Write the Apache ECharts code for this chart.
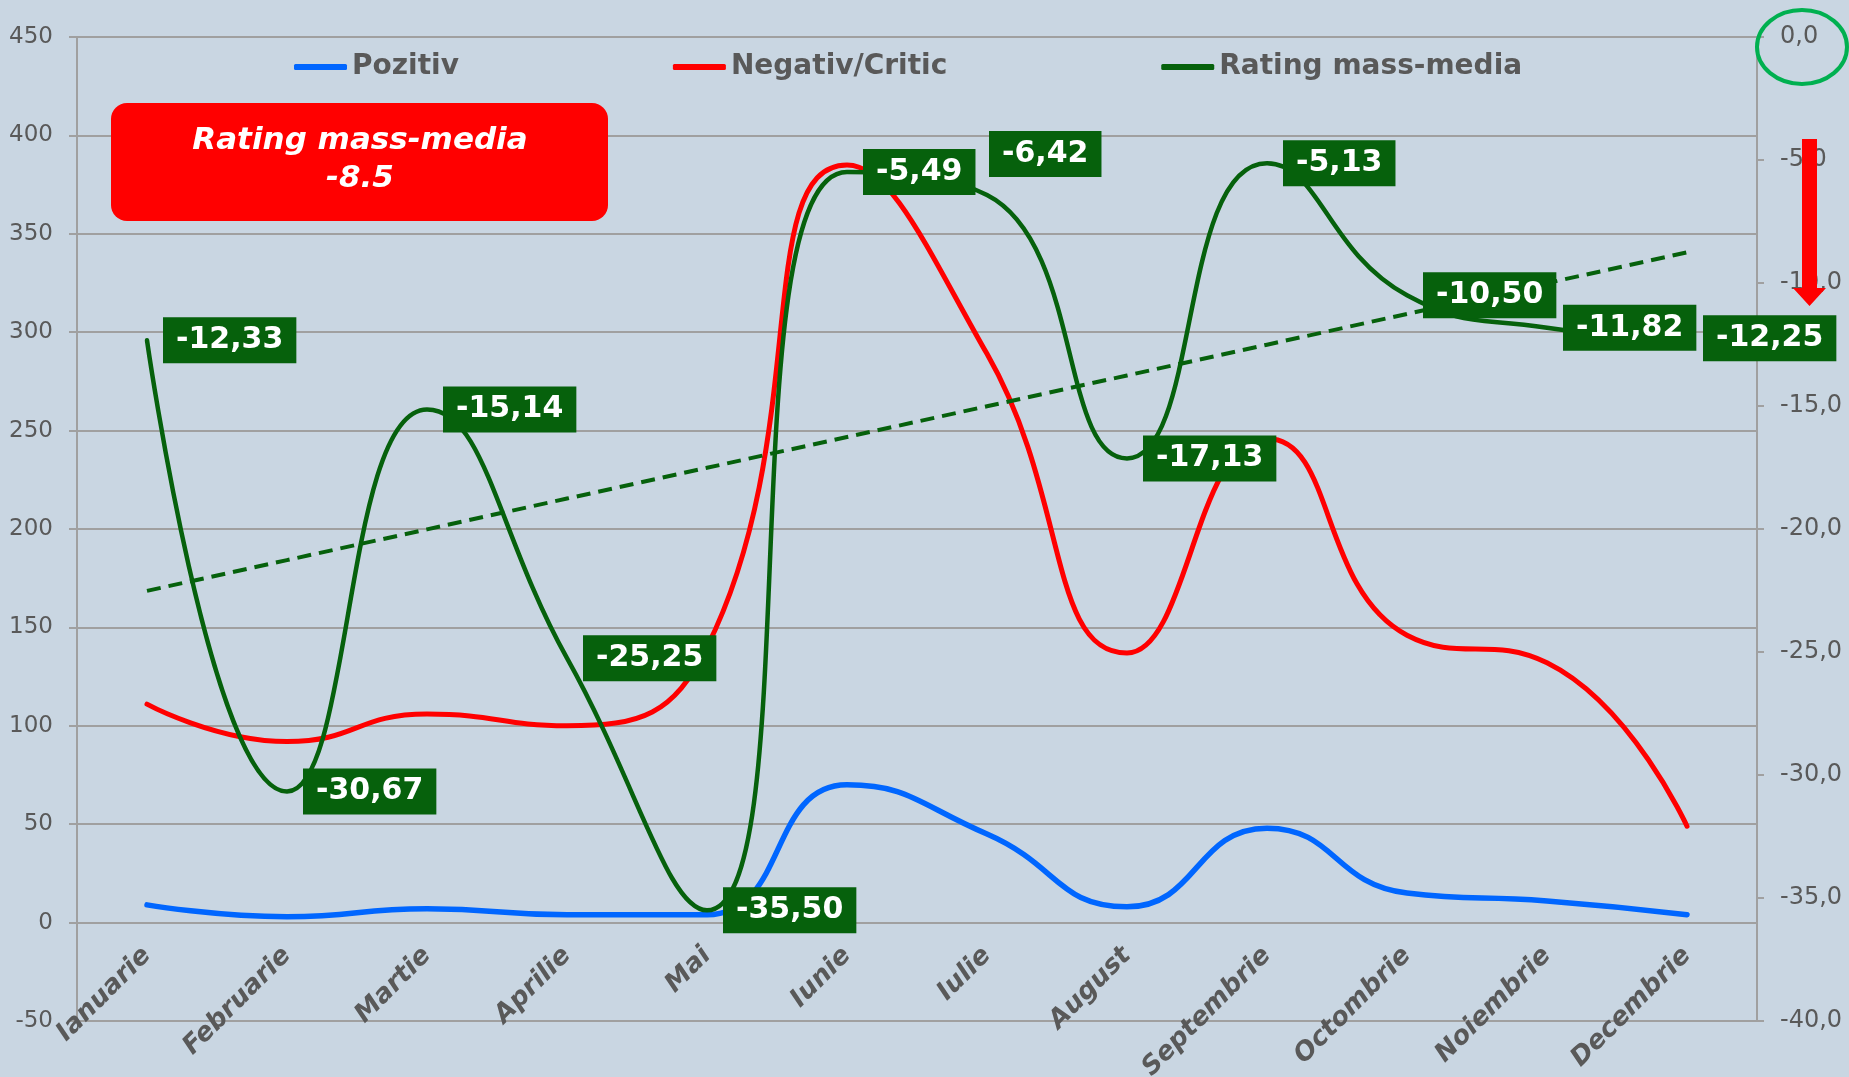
<!DOCTYPE html>
<html>
<head>
<meta charset="utf-8">
<script src="https://cdn.jsdelivr.net/npm/echarts@6/dist/echarts.min.js"></script>
<style>
    html, body {margin: 0; padding: 0; background: #c9d6e2;}
    #main {width: 1849px; height: 1077px;}
</style>
</head>
<body>
<div id="main"></div>
<script>
var months = ['Ianuarie', 'Februarie', 'Martie', 'Aprilie', 'Mai', 'Iunie', 'Iulie', 'August', 'Septembrie', 'Octombrie', 'Noiembrie', 'Decembrie'];
var pozitiv = [9, 3, 7, 4, 4, 70, 45, 8, 48, 15, 11, 4];
var negativ = [111, 92, 106, 100, 140, 385, 289, 137, 246, 146, 132, 49];
var rating = [-12.33, -30.67, -15.14, -25.25, -35.50, -5.49, -6.42, -17.13, -5.13, -10.50, -11.82, -12.25];
var leftMin = -50, leftMax = 450, leftStep = 50;
var rightMin = -40, rightMax = 0, rightStep = 5;
var ratingTotal = '-8.5';

var gray = '#595959';
var lineGray = '#a0a0a0';
var darkGreen = '#06610c';

// linear trend of the rating series
function trend(values) {
    var n = values.length, sx = 0, sy = 0, sxy = 0, sxx = 0;
    for (var i = 0; i < n; i++) {
        sx += i; sy += values[i]; sxy += i * values[i]; sxx += i * i;
    }
    var b = (n * sxy - sx * sy) / (n * sxx - sx * sx);
    var a = (sy - b * sx) / n;
    return values.map(function (v, i) { return +(a + b * i).toFixed(3); });
}

function getChart(id) {

    var chart = echarts.init(document.getElementById(id));

    var gridTop = 37, gridBottom = 56;
    var gridHeight = 1077 - gridTop - gridBottom;
    // category axis sits on the zero line of the left axis
    var zeroOffset = -(0 - leftMin) / (leftMax - leftMin) * gridHeight;

    var ratingData = rating.map(function (v, i) {
        // Iulie label sits above the point
        if (i === 6) return {value: v, label: {offset: [-14, -41]}};
        return v;
    });

    var option = {
        backgroundColor: '#c9d6e2',
        animation: false,
        legend: {
            data: ['Pozitiv', 'Negativ/Critic', 'Rating mass-media'],
            left: 289,
            top: 48,
            icon: 'roundRect',
            itemWidth: 53,
            itemHeight: 6,
            itemGap: 214,
            textStyle: {
                color: gray,
                fontSize: 28,
                fontWeight: 'bold',
                fontFamily: 'DejaVu Sans'
            }
        },
        grid: {left: 77, right: 92, top: gridTop, bottom: gridBottom, outerBoundsMode: 'none', containLabel: false},
        xAxis: [
            {
                type: 'category',
                data: months,
                boundaryGap: true,
                offset: zeroOffset,
                axisLine: {onZero: false, lineStyle: {color: lineGray, width: 2}},
                axisTick: {length: 8, lineStyle: {color: lineGray, width: 2}},
                axisLabel: {
                    rotate: 45,
                    margin: 29,
                    color: gray,
                    fontSize: 26,
                    fontWeight: 'bold',
                    fontStyle: 'italic',
                    fontFamily: 'DejaVu Sans'
                }
            }
        ],
        yAxis: [
            {
                type: 'value',
                min: leftMin,
                max: leftMax,
                interval: leftStep,
                axisLine: {show: true, lineStyle: {color: lineGray, width: 2}},
                axisTick: {show: true, length: 8, lineStyle: {color: lineGray, width: 2}},
                splitLine: {show: true, lineStyle: {color: lineGray, width: 2}},
                axisLabel: {margin: 24, color: gray, fontSize: 23, fontFamily: 'DejaVu Sans'}
            },
            {
                type: 'value',
                min: rightMin,
                max: rightMax,
                interval: rightStep,
                position: 'right',
                axisLine: {show: true, lineStyle: {color: lineGray, width: 2}},
                axisTick: {show: true, length: 7, lineStyle: {color: lineGray, width: 2}},
                splitLine: {show: false},
                axisLabel: {
                    margin: 23,
                    color: gray,
                    fontSize: 24,
                    fontFamily: 'DejaVu Sans',
                    formatter: function (v) { return v.toFixed(1).replace('.', ','); }
                }
            }
        ],
        series: [
            {
                name: 'Pozitiv',
                type: 'line',
                smooth: true,
                symbol: 'none',
                color: '#0066ff',
                lineStyle: {width: 5.5, cap: 'round'},
                data: pozitiv
            },
            {
                name: 'Negativ/Critic',
                type: 'line',
                smooth: true,
                symbol: 'none',
                color: '#ff0000',
                lineStyle: {width: 5, cap: 'round'},
                data: negativ
            },
            {
                name: 'Trend',
                type: 'line',
                yAxisIndex: 1,
                symbol: 'none',
                color: darkGreen,
                lineStyle: {width: 4, type: [14, 8]},
                data: trend(rating)
            },
            {
                name: 'Rating mass-media',
                type: 'line',
                yAxisIndex: 1,
                smooth: true,
                symbol: 'circle',
                symbolSize: 2,
                color: darkGreen,
                lineStyle: {width: 4.5, cap: 'round'},
                label: {
                    show: true,
                    position: 'right',
                    distance: 15,
                    backgroundColor: darkGreen,
                    color: '#ffffff',
                    fontSize: 30,
                    fontWeight: 'bold',
                    fontFamily: 'DejaVu Sans',
                    lineHeight: 34,
                    padding: [6, 13],
                    formatter: function (p) { return p.value.toFixed(2).replace('.', ','); }
                },
                data: ratingData
            }
        ],
        graphic: [
            {
                type: 'rect',
                z: 100,
                shape: {x: 111, y: 103, width: 497, height: 118, r: 16},
                style: {fill: '#ff0000'}
            },
            {
                type: 'text',
                z: 101,
                style: {
                    text: 'Rating mass-media\n' + ratingTotal,
                    x: 360,
                    y: 160,
                    align: 'center',
                    verticalAlign: 'middle',
                    fill: '#ffffff',
                    fontSize: 31,
                    fontWeight: 'bold',
                    fontStyle: 'italic',
                    fontFamily: 'DejaVu Sans',
                    lineHeight: 38
                }
            },
            {
                type: 'ellipse',
                z: 100,
                shape: {cx: 1802, cy: 47, rx: 45, ry: 37},
                style: {fill: 'none', stroke: '#00b050', lineWidth: 4}
            },
            {
                type: 'polygon',
                z: 100,
                shape: {points: [[1802, 139], [1817, 139], [1817, 288], [1826, 288], [1809.5, 306], [1793, 288], [1802, 288]]},
                style: {fill: '#ff0000'}
            }
        ]
    };

    chart.setOption(option);
}

getChart('main');
</script>
</body>
</html>
